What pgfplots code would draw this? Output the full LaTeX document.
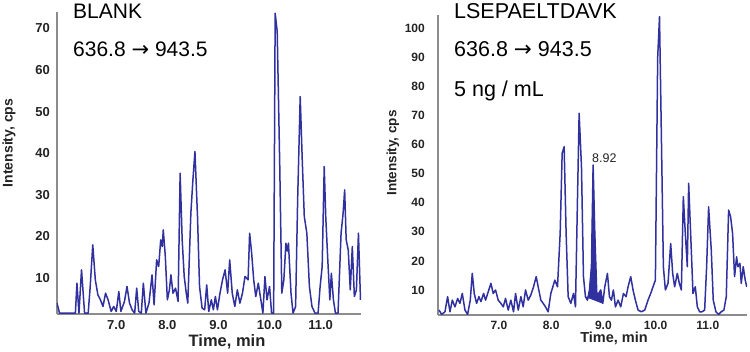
\documentclass[border=0pt]{standalone}
\usepackage{pgfplots}
\pgfplotsset{compat=1.18}
\usepackage{fontspec}
\setmainfont{Liberation Sans}
\newfontfamily\dejavu{DejaVu Sans}
\newcommand{\arr}{{\dejavu →}}
\definecolor{trace}{RGB}{48,48,158}
\definecolor{axgray}{RGB}{140,140,140}
\definecolor{txt}{RGB}{35,35,35}
\pgfplotsset{
  chrom/.style={
    scale only axis,
    axis x line*=bottom, axis y line*=left,
    axis line style={draw=axgray, line width=1.5pt, -},
    major tick length=0pt, minor tick num=0,
    xtick={7,8,9,10,11},
    xticklabels={7.0,8.0,9.0,10.0,11.0},
    clip=true,
  },
  trc/.style={draw=trace, line width=1.5pt, line join=round, mark=none},
}
\begin{document}
\begin{tikzpicture}[x=1pt,y=1pt]
\useasboundingbox (0,0) rectangle (750,352);
% ---------- left panel ----------
\begin{axis}[chrom, at={(57pt,38pt)}, anchor=south west,
  width=304pt, height=302pt,
  xmin=5.84, xmax=11.79, ymin=1.4, ymax=73.9,
  ytick={10,20,30,40,50,60,70},
  yticklabels={10,20,30,40,50,60,70},
  xticklabel style={font=\bfseries\fontsize{13}{13}\selectfont, text=txt, inner sep=0pt, anchor=north, yshift=-6pt},
  yticklabel style={font=\bfseries\fontsize{13}{13}\selectfont, text=txt, inner sep=0pt, anchor=east, xshift=-7pt},
]
\addplot[trc] coordinates {
(5.84,4.0)(5.89,1.6)(6.20,1.6)(6.23,8.8)(6.27,1.6)(6.32,12.0)(6.38,1.6)(6.45,1.6)
(6.49,8.0)(6.54,18.0)(6.59,9.6)(6.64,6.0)(6.69,4.8)(6.74,3.2)(6.79,6.4)(6.84,4.8)
(6.90,2.0)(6.95,3.2)(7.00,2.0)(7.05,6.8)(7.09,2.0)(7.16,4.4)(7.21,8.0)(7.26,4.0)
(7.31,2.4)(7.36,1.6)(7.40,7.6)(7.44,2.0)(7.49,1.6)(7.53,8.8)(7.58,1.6)(7.64,4.0)
(7.70,10.8)(7.74,3.6)(7.79,14.4)(7.83,12.8)(7.87,19.2)(7.90,17.6)(7.92,21.6)(7.96,15.2)
(8.00,4.8)(8.04,7.2)(8.07,10.8)(8.11,6.4)(8.16,7.6)(8.21,4.4)(8.25,35.2)(8.29,19.2)
(8.33,10.4)(8.37,6.4)(8.40,4.0)(8.46,25.6)(8.50,33.6)(8.54,40.4)(8.59,24.8)(8.63,8.0)
(8.68,2.8)(8.73,2.4)(8.77,8.4)(8.81,2.0)(8.86,4.8)(8.90,2.4)(8.94,5.6)(8.98,2.4)
(9.03,6.4)(9.08,9.6)(9.13,12.0)(9.18,6.4)(9.22,14.4)(9.27,6.4)(9.32,3.2)(9.37,7.2)
(9.42,4.0)(9.47,6.4)(9.52,10.4)(9.58,9.6)(9.61,20.8)(9.65,16.0)(9.69,9.6)(9.73,5.6)
(9.78,8.8)(9.83,4.8)(9.87,1.6)(9.91,10.4)(9.95,4.8)(10.00,8.0)(10.04,1.6)(10.08,1.6)
(10.11,73.6)(10.15,69.2)(10.20,36.8)(10.24,6.4)(10.28,9.6)(10.32,18.4)(10.345,16.5)(10.37,18.4)(10.42,6.4)
(10.46,1.6)(10.51,3.2)(10.55,28.8)(10.60,53.6)(10.64,38.4)(10.68,24.8)(10.73,20.8)(10.78,8.0)
(10.83,3.2)(10.89,1.6)(10.95,1.6)(10.99,8.0)(11.03,12.8)(11.07,36.8)(11.10,24.8)(11.14,14.4)
(11.18,4.8)(11.21,11.2)(11.25,4.8)(11.29,1.6)(11.34,1.6)(11.40,20.8)(11.44,25.6)(11.47,31.2)
(11.50,19.2)(11.54,16.8)(11.58,7.2)(11.62,17.6)(11.66,5.6)(11.70,7.2)(11.74,20.8)(11.78,4.8)
};
\end{axis}
% ---------- right panel ----------
\begin{axis}[chrom, at={(438pt,37pt)}, anchor=south west,
  width=309pt, height=300pt,
  xmin=5.834, xmax=11.75, ymin=1.4, ymax=104.6,
  ytick={10,20,30,40,50,60,70,80,90,100},
  yticklabels={10,20,30,40,50,60,70,80,90,100},
  xticklabel style={font=\bfseries\fontsize{12}{12}\selectfont, text=txt, inner sep=0pt, anchor=north, yshift=-6pt},
  yticklabel style={font=\bfseries\fontsize{12}{12}\selectfont, text=txt, inner sep=0pt, anchor=east, xshift=-13pt},
]
\addplot[fill=trace, draw=trace, line width=0.6pt] coordinates {
(8.657,7.7)(8.695,6.5)(8.734,10.0)(8.772,18.0)(8.804,53.0)(8.836,29.5)(8.874,8.8)(8.912,8.8)(8.950,10.0)(8.989,5.4)
} -- cycle;
\addplot[trc] coordinates {
(5.853,3.1)(5.904,1.6)(5.967,2.5)(6.018,7.7)(6.063,2.5)(6.108,6.5)(6.159,4.2)(6.210,7.1)
(6.254,5.4)(6.299,8.8)(6.350,3.1)(6.401,1.6)(6.452,6.5)(6.490,15.7)(6.528,8.8)(6.573,5.4)
(6.618,7.7)(6.656,6.0)(6.707,8.8)(6.745,6.5)(6.796,9.4)(6.847,12.3)(6.892,8.8)(6.936,10.0)
(6.987,6.5)(7.038,5.4)(7.083,4.2)(7.127,7.1)(7.178,3.1)(7.229,6.5)(7.280,2.5)(7.319,8.8)
(7.370,3.1)(7.421,7.7)(7.465,4.2)(7.510,10.0)(7.561,6.5)(7.612,8.3)(7.663,11.1)(7.714,14.6)
(7.752,11.1)(7.803,6.5)(7.848,5.4)(7.892,4.2)(7.943,2.5)(7.994,8.8)(8.033,11.1)(8.071,13.4)
(8.122,11.1)(8.173,29.5)(8.211,57.0)(8.249,59.3)(8.287,29.5)(8.326,7.7)(8.377,5.4)(8.428,8.8)
(8.466,4.2)(8.504,40.9)(8.536,70.8)(8.581,52.4)(8.619,14.6)(8.657,7.7)(8.695,6.5)(8.734,10.0)
(8.772,18.0)(8.804,53.0)(8.836,29.5)(8.874,8.8)(8.912,8.8)(8.950,10.0)(8.989,5.4)(9.027,11.1)
(9.078,15.7)(9.116,7.7)(9.154,6.5)(9.192,10.0)(9.231,4.2)(9.282,6.5)(9.333,4.2)(9.384,8.8)
(9.435,7.7)(9.473,11.1)(9.524,14.6)(9.568,10.0)(9.613,6.5)(9.664,3.1)(9.728,2.5)(9.792,3.1)
(9.855,6.5)(9.906,8.8)(9.951,11.1)(9.996,13.4)(10.040,90.0)(10.075,104.0)(10.110,63.9)(10.149,18.0)
(10.187,10.0)(10.238,12.3)(10.289,26.0)(10.327,15.7)(10.365,11.1)(10.416,15.7)(10.454,12.3)(10.493,10.0)
(10.531,42.1)(10.569,29.5)(10.607,18.0)(10.633,46.7)(10.671,29.5)(10.716,8.8)(10.760,11.1)(10.799,4.2)
(10.843,2.5)(10.888,2.5)(10.939,3.1)(10.977,18.0)(11.015,38.6)(11.066,23.7)(11.104,6.5)(11.155,2.5)
(11.206,1.6)(11.257,2.5)(11.308,3.1)(11.353,7.7)(11.398,37.5)(11.436,35.2)(11.474,29.5)(11.512,14.6)
(11.551,21.4)(11.576,18.0)(11.614,19.2)(11.640,12.3)(11.678,18.0)(11.716,13.4)(11.745,11.1)
};
\end{axis}
% ---------- texts ----------
\node[anchor=base west, inner sep=0pt, font=\fontsize{21}{21}\selectfont] at (73,333) {BLANK};
\node[anchor=base west, inner sep=0pt, font=\fontsize{21}{21}\selectfont] at (73,295) {636.8 \arr{} 943.5};
\node[anchor=base west, inner sep=0pt, font=\fontsize{21.5}{21.5}\selectfont] at (454,333) {LSEPAELTDAVK};
\node[anchor=base west, inner sep=0pt, font=\fontsize{21.5}{21.5}\selectfont] at (454,295) {636.8 \arr{} 943.5};
\node[anchor=base west, inner sep=0pt, font=\fontsize{21.5}{21.5}\selectfont] at (454,255) {5 ng / mL};
\node[anchor=base west, inner sep=0pt, font=\fontsize{12.5}{12.5}\selectfont, text=txt] at (592,189) {8.92};
\node[anchor=base, inner sep=0pt, font=\bfseries\fontsize{16.5}{16.5}\selectfont, text=txt] at (227,5) {Time, min};
\node[anchor=base, inner sep=0pt, font=\bfseries\fontsize{14.5}{14.5}\selectfont, text=txt] at (614,9) {Time, min};
\node[rotate=90, inner sep=0pt, font=\bfseries\fontsize{14}{14}\selectfont, text=txt] at (9,209) {Intensity, cps};
\node[rotate=90, inner sep=0pt, font=\bfseries\fontsize{13.5}{13.5}\selectfont, text=txt] at (393,199) {Intensity, cps};
\end{tikzpicture}
\end{document}
